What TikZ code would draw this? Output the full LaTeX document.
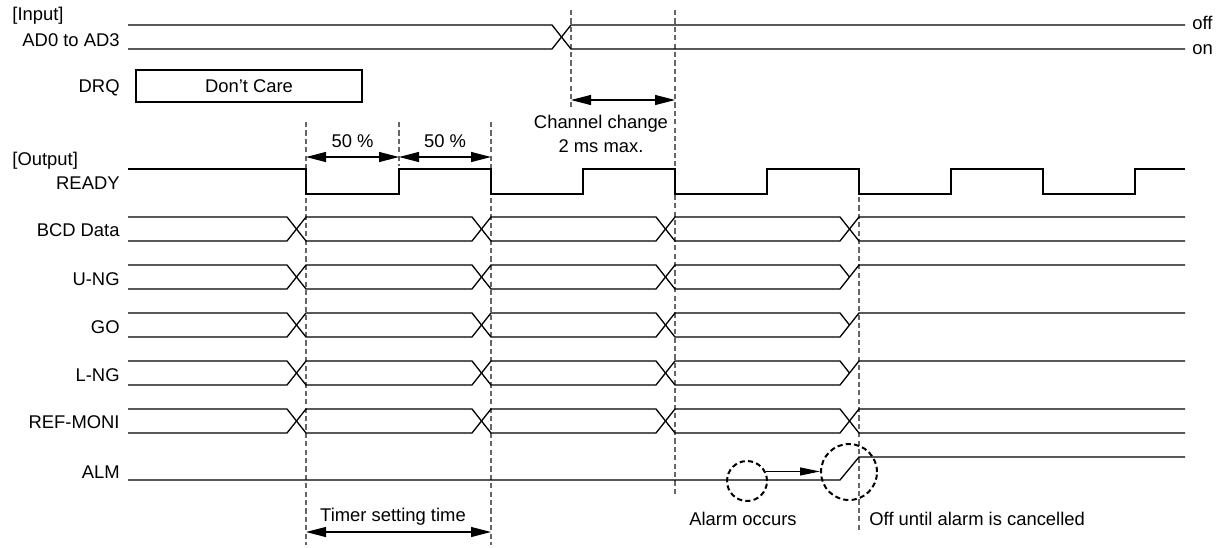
\documentclass[tikz,border=0pt]{standalone}
\usepackage{fontspec}
\setmainfont{Liberation Sans}
\usetikzlibrary{arrows.meta}
\begin{document}
\begin{tikzpicture}[x=0.5pt,y=-0.5pt,
  sig/.style={line width=0.65pt, line join=miter},
  guide/.style={black!60, dash pattern=on 2.6pt off 1.6pt, line width=0.6pt},
  dim/.style={line width=0.55pt, {Triangle[length=10pt,width=5pt]}-{Triangle[length=10pt,width=5pt]}},
  onearrow/.style={line width=0.55pt, -{Triangle[length=10pt,width=4pt]}},
  lbl/.style={font=\fontsize{9.2}{11}\selectfont, inner sep=0pt},
  ring/.style={draw, circle, line width=1pt, dash pattern=on 2.6pt off 1.6pt, inner sep=0pt},
]
\useasboundingbox (0,0) rectangle (1221,547);

% ---------- labels ----------
\node[lbl, anchor=base west] (tin) at (12,20.5) {[Input]};
\node[lbl, anchor=base east] (tad) at (120,46.5) {AD0 to AD3};
\node[lbl, anchor=base east] (tdrq) at (120,92) {DRQ};
\node[lbl, anchor=base west] (tout) at (12,165) {[Output]};
\node[lbl, anchor=base east] (trdy) at (120,189) {READY};
\node[lbl, anchor=base east] (tbcd) at (120,236.5) {BCD Data};
\node[lbl, anchor=base east] (tung) at (120,285) {U-NG};
\node[lbl, anchor=base east] (tgo) at (120,333) {GO};
\node[lbl, anchor=base east] (tlng) at (120,381) {L-NG};
\node[lbl, anchor=base east] (tref) at (120,428.5) {REF-MONI};
\node[lbl, anchor=base east] (talm) at (120,478) {ALM};
\node[lbl, anchor=base west] (toff) at (1192,29.5) {off};
\node[lbl, anchor=base west] (ton) at (1192,54) {on};

% ---------- guides ----------
\coordinate (g1t) at (571,10);  \coordinate (g1b) at (571,107);
\coordinate (g2t) at (675,10);  \coordinate (g2b) at (675,497);
\coordinate (g3t) at (306,122); \coordinate (g3b) at (306,545);
\coordinate (g4t) at (399,122); \coordinate (g4b) at (399,166);
\coordinate (g5t) at (491,122); \coordinate (g5b) at (491,545);
\coordinate (g6t) at (859,197); \coordinate (g6b) at (859,533);
\foreach \i in {1,...,6} \draw[guide] (g\i t) -- (g\i b);

% ---------- AD0 to AD3 ----------
\draw[sig] (128,25) -- (552,25) -- (571,49) -- (1185,49);
\draw[sig] (128,49) -- (552,49) -- (571,25) -- (1185,25);

% ---------- DRQ ----------
\node[draw, line width=0.6pt, minimum width=113pt, minimum height=16pt, inner sep=0pt,
      font=\fontsize{9.2}{11}\selectfont] (drq) at (249,86) {Don’t Care};

% ---------- READY ----------
\draw[sig] (128,169) -- (306,169) -- (306,194) -- (399,194) -- (399,169) -- (491,169)
  -- (491,194) -- (583,194) -- (583,169) -- (675,169) -- (675,194) -- (767,194)
  -- (767,169) -- (859,169) -- (859,194) -- (951,194) -- (951,169) -- (1043,169)
  -- (1043,194) -- (1135,194) -- (1135,169) -- (1185,169);

% ---------- full buses ----------
\foreach \yt in {217,409} {
  \pgfmathsetmacro{\yb}{\yt+24}
  \draw[sig] (128,\yt) -- (287,\yt) -- (306,\yb) -- (472,\yb) -- (491,\yt) -- (656,\yt)
    -- (675,\yb) -- (840,\yb) -- (859,\yt) -- (1185,\yt);
  \draw[sig] (128,\yb) -- (287,\yb) -- (306,\yt) -- (472,\yt) -- (491,\yb) -- (656,\yb)
    -- (675,\yt) -- (840,\yt) -- (859,\yb) -- (1185,\yb);
}
% ---------- judgement outputs ----------
\foreach \yt in {265,313,361} {
  \pgfmathsetmacro{\yb}{\yt+24}
  \pgfmathsetmacro{\ym}{\yt+12}
  \draw[sig] (128,\yt) -- (287,\yt) -- (306,\yb) -- (472,\yb) -- (491,\yt) -- (656,\yt)
    -- (675,\yb) -- (840,\yb) -- (859,\yt) -- (1185,\yt);
  \draw[sig] (128,\yb) -- (287,\yb) -- (306,\yt) -- (472,\yt) -- (491,\yb) -- (656,\yb)
    -- (675,\yt) -- (840,\yt) -- (849.5,\ym);
}

% ---------- ALM ----------
\draw[sig] (128,480) -- (840,480) -- (859,457) -- (1185,457);
\node[ring, minimum size=20pt] (c1) at (747,481) {};
\node[ring, minimum size=28pt] (c2) at (849,472) {};
\draw[onearrow] (c1.27) -- (c1.27 -| c2.west);

% ---------- dimensions ----------
\coordinate (a1) at (306,157); \coordinate (a2) at (399,157); \coordinate (a3) at (491,157);
\draw[dim] (a1) -- (a2);
\draw[dim] (a2) -- (a3);
\node[lbl, anchor=base] (p1) at (352.5,147) {50 \%};
\node[lbl, anchor=base] (p2) at (445,147) {50 \%};

\coordinate (c3) at (571,100); \coordinate (c4) at (675,100);
\draw[dim] (c3) -- (c4);
\node[lbl, anchor=base] (cc1) at (601,128) {Channel change};
\node[lbl, anchor=base] (cc2) at (601,152) {2 ms max.};

\coordinate (t1) at (306,532); \coordinate (t2) at (491,532);
\draw[dim] (t1) -- (t2);
\node[lbl, anchor=base] (tst) at (393,521.5) {Timer setting time};

\node[lbl, anchor=base] (ao) at (743,525) {Alarm occurs};
\node[lbl, anchor=base west] (ou) at (869,525) {Off until alarm is cancelled};
\end{tikzpicture}
\end{document}
